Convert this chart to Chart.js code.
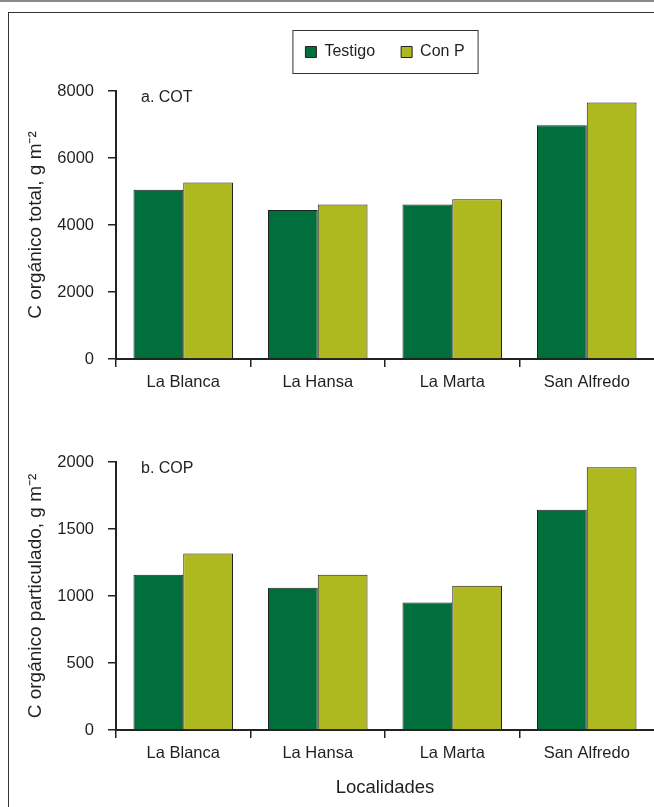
<!DOCTYPE html>
<html>
<head>
<meta charset="utf-8">
<script src="https://cdn.jsdelivr.net/npm/chart.js@4/dist/chart.umd.min.js"></script>
<style>
  body { margin: 0; background: #fff; width: 654px; height: 807px; overflow: hidden; position: relative; }
  #topline { position: absolute; left: 0; top: 0; width: 654px; height: 2px; background: #8a8a8a; }
  #frame { position: absolute; left: 8px; top: 12px; width: 700px; height: 900px; border: 1px solid #333; }
  canvas { position: absolute; left: 0; }
  #cot { top: 0; }
  #cop { top: 400px; }
</style>
</head>
<body>
<div id="topline"></div>
<div id="frame"></div>
<canvas id="cot" width="654" height="400"></canvas>
<canvas id="cop" width="654" height="407"></canvas>
<script>
// data
const localidades = ['La Blanca', 'La Hansa', 'La Marta', 'San Alfredo'];
const cotTestigo = [5050, 4450, 4610, 6980];
const cotConP = [5270, 4610, 4770, 7660];
const copTestigo = [1158, 1061, 951, 1644];
const copConP = [1318, 1158, 1076, 1960];
const cotTicks = [0, 2000, 4000, 6000, 8000];
const copTicks = [0, 500, 1000, 1500, 2000];

const FONT = '"Liberation Sans", Arial, sans-serif';
const INK = '#231f20';
const TESTIGO = '#006f3b';
const CONP = '#adb91f';

// extra room under the legend
const legendMargin = {
    id: 'legendMargin',
    beforeInit(chart) {
        const fit = chart.legend.fit;
        chart.legend.fit = function () {
            fit.call(this);
            this.height += 21;
        };
    }
};

// frame round the legend items
const legendFrame = {
    id: 'legendFrame',
    afterDraw(chart) {
        const hb = chart.legend && chart.legend.legendHitBoxes;
        if (!hb || !hb.length) return;
        const first = hb[0], last = hb[hb.length - 1];
        const ctx = chart.ctx;
        ctx.save();
        ctx.strokeStyle = '#333';
        ctx.lineWidth = 1;
        ctx.strokeRect(first.left - 12.5, first.top - 13.5, last.left + last.width + 26 - first.left, first.height + 27);
        ctx.restore();
    }
};

// panel letter inside the plot
const panelLabel = {
    id: 'panelLabel',
    afterDraw(chart, args, opts) {
        const ctx = chart.ctx;
        ctx.save();
        ctx.font = '16px ' + FONT;
        ctx.fillStyle = INK;
        ctx.textBaseline = 'middle';
        ctx.fillText(opts.text, chart.chartArea.left + 25, chart.chartArea.top + 7);
        ctx.restore();
    }
};

function makeChart(id, testigo, conP, max, step, ticks, yTitle, panel, withLegend, xHeight, padTop) {
    const xTitle = !withLegend;
    return new Chart(document.getElementById(id), {
        type: 'bar',
        data: {
            labels: localidades,
            datasets: [
                { label: 'Testigo', data: testigo, backgroundColor: TESTIGO, borderColor: '#222', borderWidth: 1 },
                { label: 'Con P', data: conP, backgroundColor: CONP, borderColor: '#222', borderWidth: 1 }
            ]
        },
        options: {
            responsive: false,
            animation: false,
            layout: { padding: { top: padTop, left: 0, right: 0, bottom: 0 } },
            datasets: { bar: { barPercentage: 1, categoryPercentage: 0.74 } },
            plugins: {
                legend: {
                    display: withLegend,
                    position: 'top',
                    fullSize: false,
                    labels: { font: { family: FONT, size: 16 }, color: INK, boxWidth: 11, boxHeight: 11, padding: 26 }
                },
                tooltip: { enabled: false },
                panelLabel: { text: panel }
            },
            scales: {
                x: {
                    grid: {
                        drawOnChartArea: false,
                        tickLength: 8,
                        lineWidth: 1.5,
                        color: ctx => ctx.type === 'tick' ? '#222' : 'rgba(0,0,0,0)'
                    },
                    border: { color: '#222', width: 2 },
                    ticks: { font: { family: FONT, size: 16.5 }, color: INK, padding: 6 },
                    title: { display: xTitle, text: 'Localidades', font: { family: FONT, size: 18.5 }, color: INK, padding: { top: 0, bottom: 8 } },
                    afterFit: s => { s.height = xHeight; }
                },
                y: {
                    min: 0,
                    max: max,
                    grid: { drawOnChartArea: false, tickLength: 8, lineWidth: 1.5, color: '#222' },
                    border: { color: '#222', width: 2 },
                    afterBuildTicks: s => { s.ticks = ticks.map(v => ({ value: v })); },
                    ticks: { stepSize: step, font: { family: FONT, size: 16.5 }, color: INK, padding: 14, callback: v => String(v) },
                    title: { display: true, text: yTitle, font: { family: FONT, size: 19 }, color: INK, padding: { top: 24, bottom: 0 } },
                    afterFit: s => { s.width = 116; }
                }
            }
        },
        plugins: withLegend ? [legendMargin, legendFrame, panelLabel] : [panelLabel]
    });
}

makeChart('cot', cotTestigo, cotConP, 8000, 2000, cotTicks, 'C orgánico total, g m⁻²', 'a. COT', true, 41, 18);
makeChart('cop', copTestigo, copConP, 2000, 500, copTicks, 'C orgánico particulado, g m⁻²', 'b. COP', false, 77, 62);
</script>
</body>
</html>
